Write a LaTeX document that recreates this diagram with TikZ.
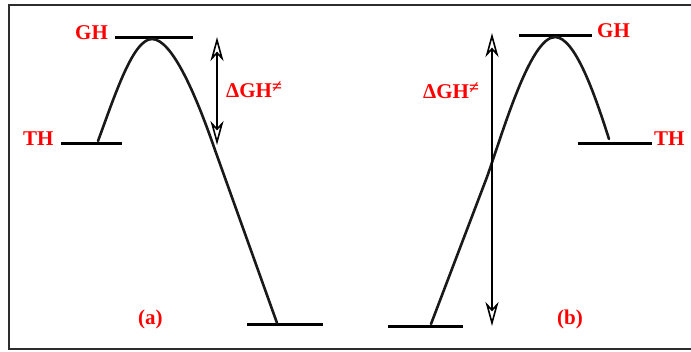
\documentclass[tikz,border=0pt]{standalone}
\usepackage{fontspec}
\setmainfont{Liberation Serif}
\usetikzlibrary{arrows.meta}
\definecolor{lblred}{RGB}{255,0,0}
\definecolor{frm}{RGB}{45,45,45}
\newcommand{\neqsup}{\raisebox{5pt}{\fontsize{18}{18}\selectfont ≠}}
\begin{document}
\begin{tikzpicture}[x=1pt,y=-1pt,
  levelline/.style={line width=3pt},
  energy/.style={line width=2.6pt, line cap=round, color=black!90},
  gaparrow/.style={line width=1.6pt, >={Stealth[open,length=24pt,width=13pt,inset=7pt]}, <->},
  lbl/.style={text=lblred, font=\fontsize{21}{24}\selectfont\bfseries, inner sep=0pt, anchor=base west}]
\useasboundingbox (0,0) rectangle (691,351);
\draw[frm, line width=2pt] (691,4.5) -- (9,4.5) -- (9,348.5) -- (691,348.5);

% ---------- panel (a) ----------
\coordinate (thA1) at (61,143);  \coordinate (thA2) at (122,143);
\coordinate (ghA1) at (115,37);  \coordinate (ghA2) at (193,37);
\coordinate (loA1) at (247,324); \coordinate (loA2) at (323,324);
\coordinate (sA) at (98,141);
\coordinate (pA) at (152,39);
\coordinate (mA) at (215,150);
\coordinate (eA) at (277,323);
\coordinate (arA1) at (217,37);  \coordinate (arA2) at (217,145);

\draw[levelline] (thA1) -- (thA2);
\draw[levelline] (ghA1) -- (ghA2);
\draw[levelline] (loA1) -- (loA2);
\draw[energy] (sA) .. controls (115,95) and (133,39) .. (pA)
  .. controls (172,39) and (196,95) .. (mA) -- (eA);
\draw[gaparrow] (arA1) -- (arA2);

\node[lbl] (ghA) at (75,39.3) {GH};
\node[lbl] (thA) at (23,145.5) {TH};
\node[lbl] (dA) at (226,97.3) {ΔGH\neqsup};
\node[lbl] (la) at (138,324) {(a)};

% ---------- panel (b) ----------
\coordinate (ghB1) at (519,35);  \coordinate (ghB2) at (592,35);
\coordinate (thB1) at (578,143); \coordinate (thB2) at (652,143);
\coordinate (loB1) at (388,326); \coordinate (loB2) at (463,326);
\coordinate (sB) at (431,324);
\coordinate (mB) at (487,177);
\coordinate (pB) at (555,37);
\coordinate (eB) at (609,139);
\coordinate (arB1) at (492,33);  \coordinate (arB2) at (492,326);

\draw[levelline] (ghB1) -- (ghB2);
\draw[levelline] (thB1) -- (thB2);
\draw[levelline] (loB1) -- (loB2);
\draw[energy] (sB) -- (mB) .. controls (502,135) and (530,37) .. (pB)
  .. controls (575,37) and (595,95) .. (eB);
\draw[gaparrow] (arB1) -- (arB2);

\node[lbl] (ghB) at (597,37.7) {GH};
\node[lbl] (thB) at (654,145.5) {TH};
\node[lbl] (dB) at (423,98.3) {ΔGH\neqsup};
\node[lbl] (lb) at (557,324) {(b)};
\end{tikzpicture}
\end{document}
